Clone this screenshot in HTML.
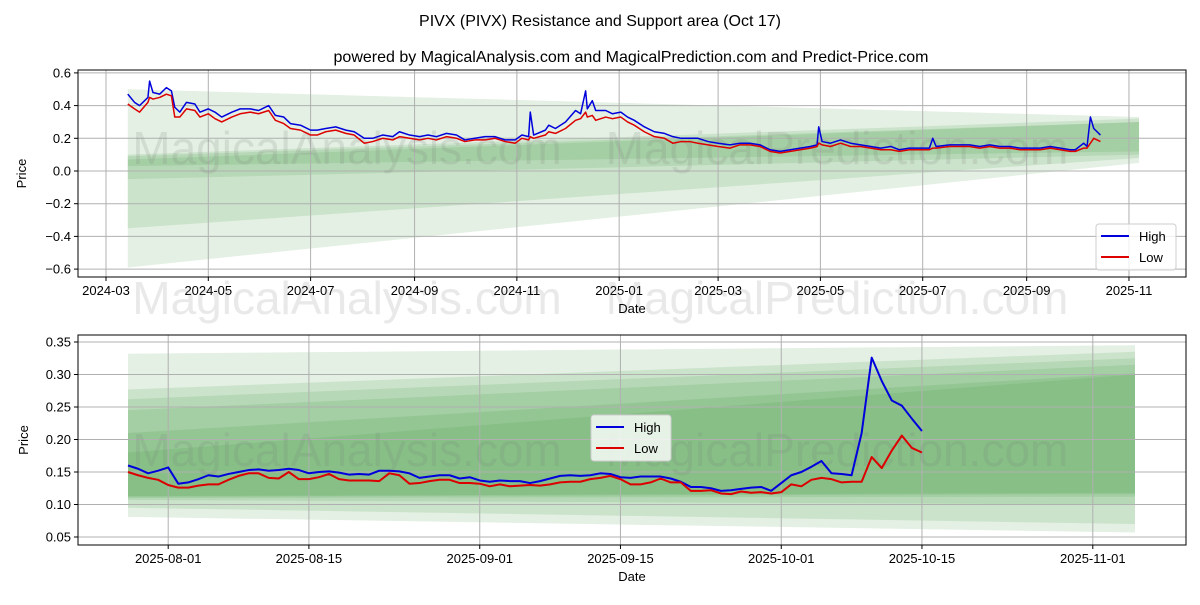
<!DOCTYPE html>
<html><head><meta charset="utf-8"><style>
body{margin:0;background:#fff;}
svg{font-family:"Liberation Sans","DejaVu Sans",sans-serif;}
</style></head><body>
<svg id="c" width="1200" height="600" viewBox="0 0 1200 600" xmlns="http://www.w3.org/2000/svg">
<text x="600" y="26" text-anchor="middle" font-size="16">PIVX (PIVX) Resistance and Support area (Oct 17)</text>
<text x="631" y="62" text-anchor="middle" font-size="16">powered by MagicalAnalysis.com and MagicalPrediction.com and Predict-Price.com</text>
<g id="top"></g><g id="bot"></g>
</svg>
<script>
// ---- top chart data (days since 2024-03-01) ----
const topDays=[13,17,20,25,26,28,32,36,39,41,44,48,53,56,61,65,69,75,80,86,91,97,101,106,110,116,122,126,131,137,143,148,154,159,165,171,175,181,187,192,197,203,209,214,220,226,232,238,244,248,252,253,255,262,264,268,274,280,283,286,287,290,292,298,302,307,311,315,321,327,333,338,343,348,353,359,365,372,378,384,390,396,402,408,414,420,424,425,427,432,438,444,450,456,462,468,473,479,485,491,493,495,503,509,515,521,527,533,539,545,551,557,563,569,575,578,583,585,587,589,593];
const topHigh=[0.47,0.42,0.40,0.45,0.55,0.48,0.47,0.51,0.49,0.39,0.36,0.42,0.41,0.36,0.38,0.36,0.33,0.36,0.38,0.38,0.37,0.40,0.34,0.33,0.29,0.28,0.25,0.25,0.26,0.27,0.25,0.24,0.20,0.20,0.22,0.21,0.24,0.22,0.21,0.22,0.21,0.23,0.22,0.19,0.20,0.21,0.21,0.19,0.19,0.22,0.21,0.36,0.22,0.25,0.28,0.26,0.30,0.37,0.35,0.49,0.38,0.43,0.37,0.37,0.35,0.36,0.33,0.31,0.27,0.24,0.23,0.21,0.20,0.20,0.20,0.18,0.17,0.16,0.17,0.17,0.16,0.13,0.12,0.13,0.14,0.15,0.16,0.27,0.18,0.17,0.19,0.17,0.16,0.15,0.14,0.15,0.13,0.14,0.14,0.14,0.20,0.15,0.16,0.16,0.16,0.15,0.16,0.15,0.15,0.14,0.14,0.14,0.15,0.14,0.13,0.13,0.17,0.15,0.33,0.26,0.22];
const topLow=[0.41,0.38,0.36,0.42,0.45,0.44,0.45,0.47,0.46,0.33,0.33,0.38,0.37,0.33,0.35,0.32,0.30,0.33,0.35,0.36,0.35,0.37,0.31,0.29,0.26,0.25,0.22,0.22,0.24,0.25,0.23,0.22,0.17,0.18,0.20,0.19,0.21,0.20,0.19,0.20,0.19,0.21,0.20,0.18,0.19,0.19,0.20,0.18,0.17,0.20,0.19,0.21,0.20,0.22,0.24,0.23,0.26,0.31,0.32,0.36,0.33,0.34,0.31,0.33,0.32,0.33,0.30,0.28,0.24,0.21,0.20,0.17,0.18,0.18,0.17,0.16,0.15,0.14,0.16,0.16,0.15,0.12,0.11,0.12,0.13,0.14,0.15,0.17,0.16,0.15,0.17,0.15,0.15,0.14,0.13,0.13,0.12,0.13,0.13,0.13,0.14,0.14,0.15,0.15,0.15,0.14,0.15,0.14,0.14,0.13,0.13,0.13,0.14,0.13,0.12,0.12,0.14,0.14,0.17,0.20,0.18];
const topYTicks=[0.6,0.4,0.2,0.0,-0.2,-0.4,-0.6];
const topYLabels=["0.6","0.4","0.2","0.0","−0.2","−0.4","−0.6"];
const topXTickDays=[0,61,122,184,245,306,365,426,487,549,610];
const topXLabels=["2024-03","2024-05","2024-07","2024-09","2024-11","2025-01","2025-03","2025-05","2025-07","2025-09","2025-11"];
// bands: [topStart, topEnd, bottomStart, bottomEnd]
const topBands=[[0.50,0.33,-0.59,0.05],[0.10,0.32,-0.35,0.08],[0.09,0.30,-0.05,0.10],[0.07,0.30,0.03,0.12]];
// ---- bottom chart data (days since 2025-07-28) ----
const botHigh=[0.160,0.155,0.148,0.152,0.157,0.132,0.134,0.139,0.145,0.143,0.147,0.150,0.153,0.154,0.152,0.153,0.155,0.153,0.148,0.150,0.151,0.149,0.146,0.147,0.146,0.152,0.152,0.151,0.148,0.141,0.143,0.145,0.145,0.140,0.142,0.137,0.135,0.137,0.136,0.136,0.133,0.136,0.140,0.144,0.145,0.144,0.145,0.148,0.147,0.142,0.141,0.143,0.143,0.143,0.140,0.135,0.127,0.127,0.125,0.121,0.122,0.124,0.126,0.127,0.121,0.133,0.145,0.150,0.158,0.167,0.148,0.147,0.145,0.210,0.326,0.290,0.260,0.252,0.232,0.213];
const botLow=[0.150,0.145,0.141,0.138,0.130,0.126,0.126,0.129,0.131,0.131,0.138,0.144,0.148,0.148,0.141,0.140,0.150,0.139,0.139,0.142,0.147,0.139,0.137,0.137,0.137,0.136,0.148,0.145,0.132,0.133,0.136,0.138,0.138,0.133,0.133,0.132,0.128,0.131,0.128,0.129,0.130,0.129,0.131,0.134,0.135,0.135,0.139,0.141,0.144,0.139,0.131,0.131,0.134,0.140,0.134,0.134,0.121,0.121,0.122,0.117,0.116,0.120,0.118,0.119,0.117,0.119,0.131,0.128,0.138,0.141,0.139,0.134,0.135,0.135,0.173,0.156,0.183,0.206,0.187,0.180];
const botYTicks=[0.35,0.30,0.25,0.20,0.15,0.10,0.05];
const botYLabels=["0.35","0.30","0.25","0.20","0.15","0.10","0.05"];
const botXTickDays=[4,18,35,49,65,79,96];
const botXLabels=["2025-08-01","2025-08-15","2025-09-01","2025-09-15","2025-10-01","2025-10-15","2025-11-01"];
const botBands=[[0.332,0.345,0.081,0.057],[0.277,0.335,0.095,0.070],[0.262,0.325,0.107,0.100],[0.245,0.315,0.110,0.112],[0.210,0.302,0.112,0.116],[0.180,0.300,0.113,0.118]];

const NS="http://www.w3.org/2000/svg";
function mk(parent,tag,attrs){const e=document.createElementNS(NS,tag);for(const k in attrs)e.setAttribute(k,attrs[k]);parent.appendChild(e);return e;}

function drawChart(g,o){
  const L=o.L,R=o.R,T=o.T,B=o.B;
  const xs=d=>o.x0+(d-o.d0)*o.pxd;
  const ys=v=>o.y0+(o.v0-v)*o.pxv;
  o.bands.forEach(b=>{
    const p=mk(g,'polygon',{points:`${xs(o.bs)},${ys(b[0])} ${xs(o.be)},${ys(b[1])} ${xs(o.be)},${ys(b[3])} ${xs(o.bs)},${ys(b[2])}`,fill:'rgba(60,150,60,0.14)'});
    
    
  });
  o.yTicks.forEach((v,i)=>{
    const y=ys(v);
    const gl=mk(g,'line',{x1:L,x2:R,y1:y,y2:y,stroke:'#b0b0b0','stroke-width':1});
    
    
    mk(g,'line',{x1:L-4,x2:L,y1:y,y2:y,stroke:'#000'});
    const t=mk(g,'text',{x:L-7,y:y+4.5,'text-anchor':'end','font-size':13});
    t.textContent=o.yLabels[i];
    
    
  });
  o.xTicks.forEach((d,i)=>{
    const x=xs(d);
    const gl=mk(g,'line',{x1:x,x2:x,y1:T,y2:B,stroke:'#b0b0b0','stroke-width':1});
    
    
    mk(g,'line',{x1:x,x2:x,y1:B,y2:B+4,stroke:'#000'});
    const t=mk(g,'text',{x:x,y:B+18,'text-anchor':'middle','font-size':13});
    t.textContent=o.xLabels[i];
    
    
  });
  o.wm.forEach(w=>{
    const t=mk(g,'text',{x:w[1],y:w[2],'text-anchor':'middle','font-size':46,fill:'rgba(120,120,120,0.16)'});
    t.textContent=w[0];
    
    
  });
  const line=(vals,col,nm)=>{
    const pts=vals.map((v,i)=>xs(o.days[i])+','+ys(v)).join(' ');
    const p=mk(g,'polyline',{points:pts,fill:'none',stroke:col,'stroke-width':o.lw,'stroke-linejoin':'round'});
    
    
  };
  line(o.high,'#0000dd','high-line');
  line(o.low,'#dd0000','low-line');
  const fr=mk(g,'rect',{x:L,y:T,width:R-L,height:B-T,fill:'none',stroke:'#000','stroke-width':1});
  
  
  const xl=mk(g,'text',{x:(L+R)/2,y:B+36,'text-anchor':'middle','font-size':13});
  xl.textContent='Date';
  
  
  const yl=mk(g,'text',{x:0,y:0,'text-anchor':'middle','font-size':13,transform:`translate(${o.ylx},${(T+B)/2}) rotate(-90)`});
  yl.textContent='Price';
  
  
  const lg=mk(g,'g',{});
  
  
  mk(lg,'rect',{x:o.lgx,y:o.lgy,width:80,height:46,rx:3,fill:'rgba(255,255,255,0.8)',stroke:'#ccc'});
  [['High','#0000dd'],['Low','#dd0000']].forEach((e,i)=>{
    const y=o.lgy+12+i*21;
    const eg=mk(lg,'g',{});
    
    
    mk(eg,'line',{x1:o.lgx+5,x2:o.lgx+33,y1:y,y2:y,stroke:e[1],'stroke-width':2});
    const t=mk(eg,'text',{x:o.lgx+43,y:y+5,'font-size':13});
    t.textContent=e[0];
  });
}
const bDays=botHigh.map((_,i)=>i);
drawChart(document.getElementById('top'),{L:78,R:1186,T:70,B:277,x0:106,d0:0,pxd:1.677,y0:171,v0:0,pxv:163.5,
  bs:13,be:616,bands:topBands,yTicks:topYTicks,yLabels:topYLabels,xTicks:topXTickDays,xLabels:topXLabels,
  days:topDays,high:topHigh,low:topLow,lw:1.5,ylx:26,lgx:1096,lgy:224,
  wm:[['MagicalAnalysis.com',347,164],['MagicalPrediction.com',837,164],['MagicalAnalysis.com',347,314],['MagicalPrediction.com',837,314]]});
drawChart(document.getElementById('bot'),{L:78,R:1186,T:335,B:545,x0:128,d0:0,pxd:10.05,y0:342,v0:0.35,pxv:650,
  bs:0,be:100.2,bands:botBands,yTicks:botYTicks,yLabels:botYLabels,xTicks:botXTickDays,xLabels:botXLabels,
  days:bDays,high:botHigh,low:botLow,lw:2,ylx:28,lgx:591,lgy:415,
  wm:[['MagicalAnalysis.com',347,466],['MagicalPrediction.com',837,466]]});
</script>
</body></html>
